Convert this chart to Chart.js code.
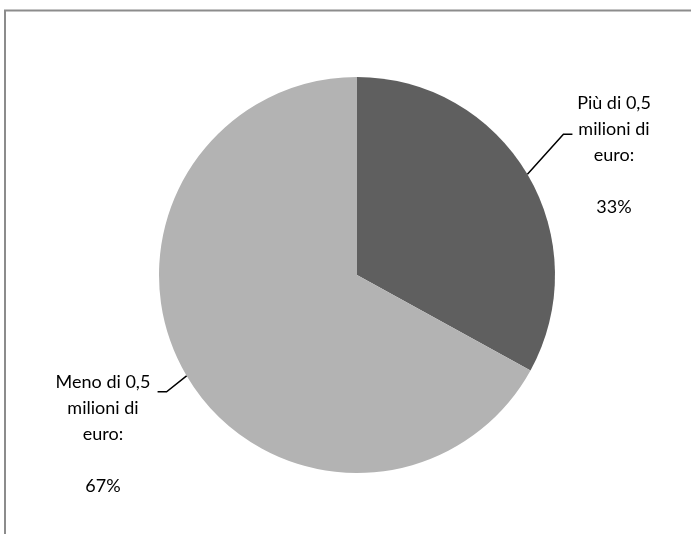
<!DOCTYPE html>
<html>
<head>
<meta charset="utf-8">
<script src="https://cdn.jsdelivr.net/npm/chart.js@4"></script>
<style>
    html, body { margin: 0; padding: 0; background: #ffffff; }
    #wrap { width: 691px; height: 534px; position: relative; }
</style>
</head>
<body>
<div id="wrap"><canvas id="pieChart"></canvas></div>
<script>
// Quota di imprese per fatturato
const categories = ['Più di 0,5 milioni di euro', 'Meno di 0,5 milioni di euro'];
const shares = [33, 67];
const sliceColors = ['#5f5f5f', '#b3b3b3'];
// Label text, one entry per line (blank line before the percentage)
const labelLines = [
    ['Più di 0,5', 'milioni di', 'euro:', '', '33%'],
    ['Meno di 0,5', 'milioni di', 'euro:', '', '67%']
];

// Frame around the chart (top and left edges only)
const framePlugin = {
    id: 'frame',
    beforeDraw(chart) {
        const ctx = chart.ctx;
        ctx.save();
        ctx.strokeStyle = '#8c8c8c';
        ctx.lineWidth = 2;
        ctx.beginPath();
        ctx.moveTo(691, 10.5);
        ctx.lineTo(5, 10.5);
        ctx.lineTo(5, 534);
        ctx.stroke();
        ctx.restore();
    }
};

// Outside labels with elbow leader lines
const leaderLabels = {
    id: 'leaderLabels',
    afterDatasetsDraw(chart, args, opts) {
        const ctx = chart.ctx;
        const arcs = chart.getDatasetMeta(0).data;
        ctx.save();
        ctx.font = '18px Lato, "Open Sans", sans-serif';
        ctx.fillStyle = '#000000';
        ctx.textAlign = 'center';
        ctx.textBaseline = 'middle';
        arcs.forEach((arc, i) => {
            const p = arc.getProps(['x', 'y', 'startAngle', 'endAngle', 'outerRadius'], true);
            const mid = (p.startAngle + p.endAngle) / 2;
            const sx = p.x + Math.cos(mid) * p.outerRadius;
            const sy = p.y + Math.sin(mid) * p.outerRadius;
            const o = opts.items[i];
            // leader line: diagonal out of the slice, then a short horizontal tail
            ctx.strokeStyle = '#000000';
            ctx.lineWidth = 1.5;
            ctx.beginPath();
            ctx.moveTo(sx, sy);
            ctx.lineTo(sx + o.elbow[0], sy + o.elbow[1]);
            ctx.lineTo(sx + o.elbow[0] + o.tail, sy + o.elbow[1]);
            ctx.stroke();
            // text block
            labelLines[i].forEach((line, k) => {
                ctx.fillText(line, o.textX, o.textY + k * 26);
            });
        });
        ctx.restore();
    }
};

new Chart(document.getElementById('pieChart'), {
    type: 'pie',
    data: {
        labels: categories,
        datasets: [{
            data: shares,
            backgroundColor: sliceColors,
            borderWidth: 0
        }]
    },
    options: {
        responsive: true,
        maintainAspectRatio: false,
        animation: false,
        layout: {
            padding: { left: 159, right: 136, top: 77, bottom: 61 }
        },
        plugins: {
            legend: { display: false },
            tooltip: { enabled: false },
            leaderLabels: {
                items: [
                    { elbow: [36, -40], tail: 9, textX: 614, textY: 103 },
                    { elbow: [-20, 16], tail: -9, textX: 103, textY: 382 }
                ]
            }
        }
    },
    plugins: [framePlugin, leaderLabels]
});
</script>
</body>
</html>
